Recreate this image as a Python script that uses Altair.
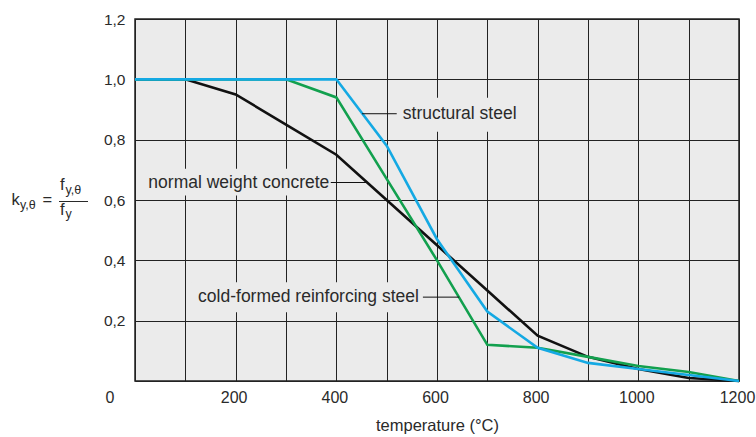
import altair as alt
import pandas as pd

# ---- data ----
temps = [0, 100, 200, 300, 400, 500, 600, 700, 800, 900, 1000, 1100, 1200]
structural_steel = [1.0, 1.0, 1.0, 1.0, 1.0, 0.78, 0.47, 0.23, 0.11, 0.06, 0.04, 0.02, 0.0]
cold_formed_steel = [1.0, 1.0, 1.0, 1.0, 0.94, 0.67, 0.40, 0.12, 0.11, 0.08, 0.05, 0.03, 0.0]
concrete = [1.0, 1.0, 0.95, 0.85, 0.75, 0.60, 0.45, 0.30, 0.15, 0.08, 0.04, 0.01, 0.0]

x_ticks = [0, 100, 200, 300, 400, 500, 600, 700, 800, 900, 1000, 1100, 1200]
y_ticks = [0, 0.2, 0.4, 0.6, 0.8, 1.0, 1.2]

series_names = ["normal weight concrete", "cold-formed reinforcing steel", "structural steel"]
series_colors = ["#111111", "#12a04e", "#14a9e3"]

# annotation labels (data coordinates)
ann_labels = ["structural steel", "normal weight concrete", "cold-formed reinforcing steel"]
ann_text_x = [532, 386, 564]
ann_text_y = [0.886, 0.658, 0.278]
ann_align = ["left", "right", "right"]
ann_lead_x1 = [451, 389, 572]
ann_lead_x2 = [520, 461, 644]
ann_box_x1 = [522, 10, 113]
ann_box_x2 = [775, 391, 570]
ann_box_y1 = [0.826, 0.615, 0.228]
ann_box_y2 = [0.939, 0.704, 0.327]

BG = "#ebebeb"
W, H = 604, 362
FONT = "Liberation Sans"
TXT = "#2a2a2a"

rows = []
for name, vals in zip(series_names, [concrete, cold_formed_steel, structural_steel]):
    for t, v in zip(temps, vals):
        rows.append({"series": name, "temp": t, "k": v})
df = pd.DataFrame(rows)

ann = pd.DataFrame({
    "label": ann_labels, "tx": ann_text_x, "ty": ann_text_y, "align": ann_align,
    "lx1": ann_lead_x1, "lx2": ann_lead_x2,
    "bx1": ann_box_x1, "bx2": ann_box_x2, "by1": ann_box_y1, "by2": ann_box_y2,
})

xscale = alt.Scale(domain=[0, 1200], nice=False, zero=False)
yscale = alt.Scale(domain=[0, 1.2], nice=False)

xaxis = alt.Axis(
    values=x_ticks, grid=True, gridColor="#222222", gridWidth=1, ticks=False, domain=False,
    labelExpr="datum.value > 0 && datum.value % 200 == 0 ? format(datum.value, 'd') : ''",
    labelFont=FONT, labelFontSize=16, labelColor=TXT, labelPadding=8, labelOffset=-2,
    labelFlush=False, labelOverlap=False, labelBound=False,
    title="temperature (°C)", titleFont=FONT, titleFontSize=16.5, titleFontWeight="normal",
    titleColor=TXT, titlePadding=12,
)
yaxis = alt.Axis(
    values=y_ticks, grid=True, gridColor="#222222", gridWidth=1, ticks=False, domain=False,
    labelExpr="datum.value == 0 ? '' : replace(format(datum.value, '.1f'), '.', ',')",
    labelFont=FONT, labelFontSize=15.5, labelColor=TXT, labelPadding=10, title=None,
    labelFlush=False, labelOverlap=False,
)

base = alt.Chart(df)

lines = base.mark_line(strokeWidth=2.6, strokeJoin="miter").encode(
    x=alt.X("temp:Q", scale=xscale, axis=xaxis),
    y=alt.Y("k:Q", scale=yscale, axis=yaxis),
    color=alt.Color("series:N", scale=alt.Scale(domain=series_names, range=series_colors), legend=None),
    order=alt.Order("temp:Q"),
)

boxes = alt.Chart(ann).mark_rect(color=BG).encode(
    x="bx1:Q", x2="bx2:Q", y="by1:Q", y2="by2:Q"
)

leaders = alt.Chart(ann).mark_rule(color="#111111", strokeWidth=1).encode(
    x="lx1:Q", x2="lx2:Q", y="ty:Q"
)

def ann_text(align):
    return alt.Chart(ann).transform_filter(alt.datum.align == align).mark_text(
        align=align, baseline="middle", font=FONT, fontSize=17.5, color=TXT
    ).encode(x="tx:Q", y="ty:Q", text="label:N")

texts = ann_text("left") + ann_text("right")

# y-axis label: k_{y,θ} = f_{y,θ} / f_y (pixel positions relative to plot origin)
OX, OY = 135, 19

def piece(txt, ax, ay, size, align="left"):
    return alt.Chart(pd.DataFrame({"t": [txt]})).mark_text(
        align=align, baseline="alphabetic", font=FONT, fontSize=size, color=TXT
    ).encode(x=alt.value(ax - OX), y=alt.value(ay - OY), text="t:N")

ylabel = (
    piece("k", 11.5, 205, 16.5)
    + piece("y,θ", 20, 209, 12.5)
    + piece("=", 42.5, 205, 16.5)
    + piece("f", 60, 190, 16.5)
    + piece("y,θ", 65.5, 194, 12.5)
    + piece("f", 60, 215, 16.5)
    + piece("y", 65.5, 218, 12.5)
    + piece("0", 110, 403, 16, align="center")
)
frac_bar = alt.Chart(pd.DataFrame({"t": [0]})).mark_rule(color=TXT, strokeWidth=1).encode(
    x=alt.value(59 - OX), x2=alt.value(88 - OX), y=alt.value(201.5 - OY)
)

chart = alt.layer(boxes, lines, leaders, texts, ylabel, frac_bar).properties(
    width=W, height=H,
    padding={"left": OX, "top": OY, "right": 756 - OX - W, "bottom": 437 - OY - H},
    autosize=alt.AutoSizeParams(type="none"),
    background="white",
).configure_view(
    fill=BG, stroke="#222222", strokeWidth=1.5
)

chart.save("out.html", embed_options={"renderer": "svg", "actions": False})
